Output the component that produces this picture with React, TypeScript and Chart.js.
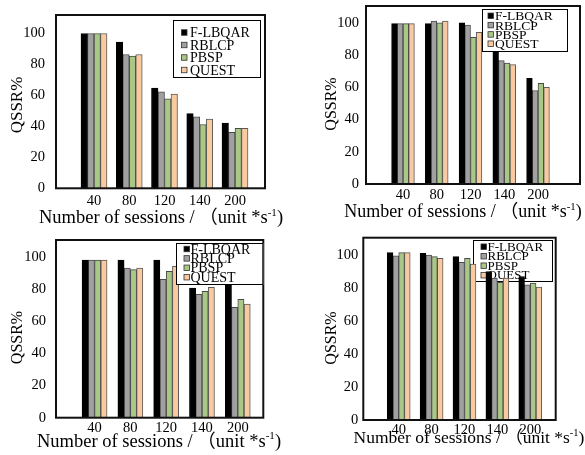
import React, { useEffect, useRef } from 'react';
import { Chart, registerables } from 'chart.js';

Chart.register(...registerables);

// ---------- data ----------
const categories = ['40', '80', '120', '140', '200'];
const seriesNames = ['F-LBQAR', 'RBLCP', 'PBSP', 'QUEST'];
const yTicks = [0, 20, 40, 60, 80, 100];

// panel (a) top-left
const aFLBQAR = [99.5, 94, 64.5, 48, 42];
const aRBLCP = [99.5, 86, 62, 46, 36];
const aPBSP = [99.5, 85, 57.5, 41, 38.5];
const aQUEST = [99.5, 86, 60.5, 44.5, 38.5];

// panel (b) top-right
const bFLBQAR = [99.5, 99.5, 100, 82, 65.5];
const bRBLCP = [99.5, 101, 98.5, 76.5, 58];
const bPBSP = [99.5, 100, 91, 75, 62.5];
const bQUEST = [99.5, 101, 94, 74, 60];

// panel (c) bottom-left
const cFLBQAR = [98.5, 98.5, 98.5, 81, 84];
const cRBLCP = [98.5, 93.5, 86.5, 77, 69];
const cPBSP = [98.5, 92.5, 91.5, 79, 74];
const cQUEST = [98.5, 93.5, 94.5, 81.5, 71];

// panel (d) bottom-right
const dFLBQAR = [101.5, 101, 99, 90, 87];
const dRBLCP = [99.5, 100, 95.5, 86, 82];
const dPBSP = [101.5, 99, 98, 83.5, 83];
const dQUEST = [101.5, 98, 94.5, 86, 80.5];

const xTitleMain = 'Number of sessions / （unit *s';
const xTitleSup = '-1';
const xTitleEnd = ')';
const yTitleText = 'QSSR%';

// ---------- styles ----------
const W = 585;
const H = 455;
const FONT = "'Liberation Serif', 'Times New Roman', 'Noto Sans CJK SC', serif";
const fills = ['#000000', '#a0a0a0', '#a9c785', '#f9c9a0'];
const borders = ['#000000', '#4a4a4a', '#4a4a4a', '#5a5a5a'];
const Y_AXIS_W = 50;
const X_AXIS_H = 30;

type Panel = {
  series: number[][];
  plot: { l: number; t: number; r: number; b: number };
  yMax: number;
  xMin: number;
  xMax: number;
  bar: number;
  yPad: number;
  xPad: number;
  tickSize: number;
  yTitle: { x: number; y: number; size: number };
  xTitle: { x: number; y: number; size: number };
  legend: { x: number; y: number; w: number; h: number; first: number; gap: number; mx: number; tx: number; ms: number; size: number };
  legendBehind: boolean;
};

const panels: Panel[] = [
  {
    series: [aFLBQAR, aRBLCP, aPBSP, aQUEST],
    plot: { l: 56, t: 15, r: 265, b: 188.3 },
    yMax: 111.4, xMin: -0.078, xMax: 5.851, bar: 6.5, yPad: 11, xPad: 4, tickSize: 14.5,
    yTitle: { x: 18, y: 105, size: 17 },
    xTitle: { x: 161, y: 223, size: 18.5 },
    legend: { x: 173, y: 20, w: 88, h: 58, first: 32.5, gap: 12.5, mx: 181.5, tx: 190, ms: 5.5, size: 14 },
    legendBehind: false,
  },
  {
    series: [bFLBQAR, bRBLCP, bPBSP, bQUEST],
    plot: { l: 366, t: 6, r: 580, b: 184 },
    yMax: 110.4, xMin: -0.096, xMax: 6.244, bar: 5.7, yPad: 7, xPad: 2.5, tickSize: 14.5,
    yTitle: { x: 332, y: 104, size: 16 },
    xTitle: { x: 463, y: 216.7, size: 18 },
    legend: { x: 482, y: 9, w: 86, h: 43, first: 15.8, gap: 9.3, mx: 488, tx: 495, ms: 5.5, size: 13.5 },
    legendBehind: false,
  },
  {
    series: [cFLBQAR, cRBLCP, cPBSP, cQUEST],
    plot: { l: 56, t: 240, r: 263.3, b: 417.7 },
    yMax: 111, xMin: -0.077, xMax: 5.713, bar: 6.25, yPad: 10, xPad: 1.5, tickSize: 14.5,
    yTitle: { x: 18, y: 337.5, size: 16 },
    xTitle: { x: 159, y: 446.7, size: 18.5 },
    legend: { x: 176, y: 243, w: 87.3, h: 42, first: 249, gap: 9.4, mx: 184, tx: 190.5, ms: 5.5, size: 14 },
    legendBehind: false,
  },
  {
    series: [dFLBQAR, dRBLCP, dPBSP, dQUEST],
    plot: { l: 363.3, t: 237.7, r: 555.7, b: 420 },
    yMax: 110.5, xMin: -0.076, xMax: 5.773, bar: 5.75, yPad: 5, xPad: 1, tickSize: 14.5,
    yTitle: { x: 332, y: 338, size: 16 },
    xTitle: { x: 469, y: 443.3, size: 17.5 },
    legend: { x: 473, y: 240, w: 80, h: 42, first: 246.7, gap: 9.5, mx: 481, tx: 487.5, ms: 5.5, size: 13 },
    legendBehind: true,
  },
];

function drawLegend(chart: any, p: Panel) {
  const ctx = chart.ctx;
  const L = p.legend;
  ctx.save();
  ctx.fillStyle = '#ffffff';
  ctx.fillRect(L.x, L.y, L.w, L.h);
  ctx.strokeStyle = '#000000';
  ctx.lineWidth = 1;
  ctx.strokeRect(L.x + 0.5, L.y + 0.5, L.w - 1, L.h - 1);
  ctx.font = `${L.size}px ${FONT}`;
  ctx.textAlign = 'left';
  ctx.textBaseline = 'alphabetic';
  chart.data.datasets.forEach((ds: any, i: number) => {
    const cy = L.first + i * L.gap;
    ctx.fillStyle = ds.backgroundColor;
    ctx.fillRect(L.mx, cy - L.ms / 2, L.ms, L.ms);
    ctx.strokeStyle = '#333333';
    ctx.lineWidth = 0.8;
    ctx.strokeRect(L.mx, cy - L.ms / 2, L.ms, L.ms);
    ctx.fillStyle = '#000000';
    ctx.fillText(ds.label, L.tx, cy + L.size * 0.33);
  });
  ctx.restore();
}

function drawBox(chart: any) {
  const { ctx, chartArea } = chart;
  ctx.save();
  ctx.strokeStyle = '#111111';
  ctx.lineWidth = 2;
  ctx.strokeRect(chartArea.left, chartArea.top, chartArea.right - chartArea.left, chartArea.bottom - chartArea.top);
  ctx.restore();
}

function drawTitles(chart: any, p: Panel) {
  const ctx = chart.ctx;
  ctx.save();
  ctx.fillStyle = '#000000';
  // y title
  ctx.save();
  ctx.translate(p.yTitle.x, p.yTitle.y);
  ctx.rotate(-Math.PI / 2);
  ctx.font = `${p.yTitle.size}px ${FONT}`;
  ctx.textAlign = 'center';
  ctx.textBaseline = 'middle';
  ctx.fillText(yTitleText, 0, 0);
  ctx.restore();
  // x title with superscript
  const s = p.xTitle.size;
  const mainFont = `${s}px ${FONT}`;
  const supFont = `${s * 0.6}px ${FONT}`;
  ctx.textBaseline = 'alphabetic';
  ctx.textAlign = 'left';
  ctx.font = mainFont;
  const w1 = ctx.measureText(xTitleMain).width;
  const w3 = ctx.measureText(xTitleEnd).width;
  ctx.font = supFont;
  const w2 = ctx.measureText(xTitleSup).width;
  const start = p.xTitle.x - (w1 + w2 + w3) / 2;
  ctx.font = mainFont;
  ctx.fillText(xTitleMain, start, p.xTitle.y);
  ctx.font = supFont;
  ctx.fillText(xTitleSup, start + w1, p.xTitle.y - s * 0.4);
  ctx.font = mainFont;
  ctx.fillText(xTitleEnd, start + w1 + w2, p.xTitle.y);
  ctx.restore();
}

const decoPlugin = {
  id: 'panelDeco',
  beforeDatasetsDraw(chart: any, _a: any, opts: any) {
    if (opts.panel.legendBehind) drawLegend(chart, opts.panel);
  },
  afterDatasetsDraw(chart: any, _a: any, opts: any) {
    drawBox(chart);
    if (!opts.panel.legendBehind) drawLegend(chart, opts.panel);
  },
  afterDraw(chart: any, _a: any, opts: any) {
    drawTitles(chart, opts.panel);
  },
};

function PanelChart({ panel }: { panel: Panel }) {
  const ref = useRef<HTMLCanvasElement | null>(null);
  useEffect(() => {
    if (!ref.current) return;
    const p = panel;
    const tickFont = { family: FONT, size: p.tickSize };
    const datasets = p.series.map((vals, si) => ({
      label: seriesNames[si],
      data: categories.map((_, i) => ({ x: i + 1, y: vals[i] })),
      backgroundColor: fills[si],
      borderColor: borders[si],
      borderWidth: 1,
      barThickness: p.bar,
    }));
    const chart = new Chart(ref.current, {
      type: 'bar',
      data: { datasets },
      options: {
        responsive: false,
        animation: false,
        devicePixelRatio: 1,
        layout: {
          padding: {
            left: p.plot.l - Y_AXIS_W,
            top: p.plot.t,
            right: W - p.plot.r,
            bottom: H - p.plot.b - X_AXIS_H,
          },
        },
        plugins: {
          legend: { display: false },
          tooltip: { enabled: false },
          title: { display: false },
          panelDeco: { panel: p },
        } as any,
        scales: {
          x: {
            type: 'linear',
            offset: false,
            min: p.xMin,
            max: p.xMax,
            grid: { display: false, drawTicks: false, offset: false },
            border: { display: false },
            afterBuildTicks: (s: any) => {
              s.ticks = categories.map((_, i) => ({ value: i + 1 }));
            },
            afterFit: (s: any) => {
              s.height = X_AXIS_H;
              s.paddingLeft = 0;
              s.paddingRight = 0;
            },
            ticks: {
              autoSkip: false,
              maxRotation: 0,
              minRotation: 0,
              padding: p.xPad,
              color: '#000000',
              font: tickFont,
              callback: (v: any) => categories[Math.round(Number(v)) - 1] ?? '',
            },
          },
          y: {
            type: 'linear',
            min: 0,
            max: p.yMax,
            grid: { display: false, drawTicks: false },
            border: { display: false },
            afterBuildTicks: (s: any) => {
              s.ticks = yTicks.map((v) => ({ value: v }));
            },
            afterFit: (s: any) => {
              s.width = Y_AXIS_W;
              s.paddingTop = 0;
              s.paddingBottom = 0;
            },
            ticks: {
              padding: p.yPad,
              color: '#000000',
              font: tickFont,
              callback: (v: any) => String(v),
            },
          },
        },
      } as any,
      plugins: [decoPlugin],
    });
    return () => chart.destroy();
  }, [panel]);
  return (
    <canvas
      ref={ref}
      width={W}
      height={H}
      style={{ position: 'absolute', left: 0, top: 0, width: W, height: H }}
    />
  );
}

export default function App() {
  return (
    <div style={{ position: 'fixed', left: 0, top: 0, width: W, height: H, background: '#ffffff', overflow: 'hidden' }}>
      {panels.map((p, i) => (
        <PanelChart key={i} panel={p} />
      ))}
    </div>
  );
}
